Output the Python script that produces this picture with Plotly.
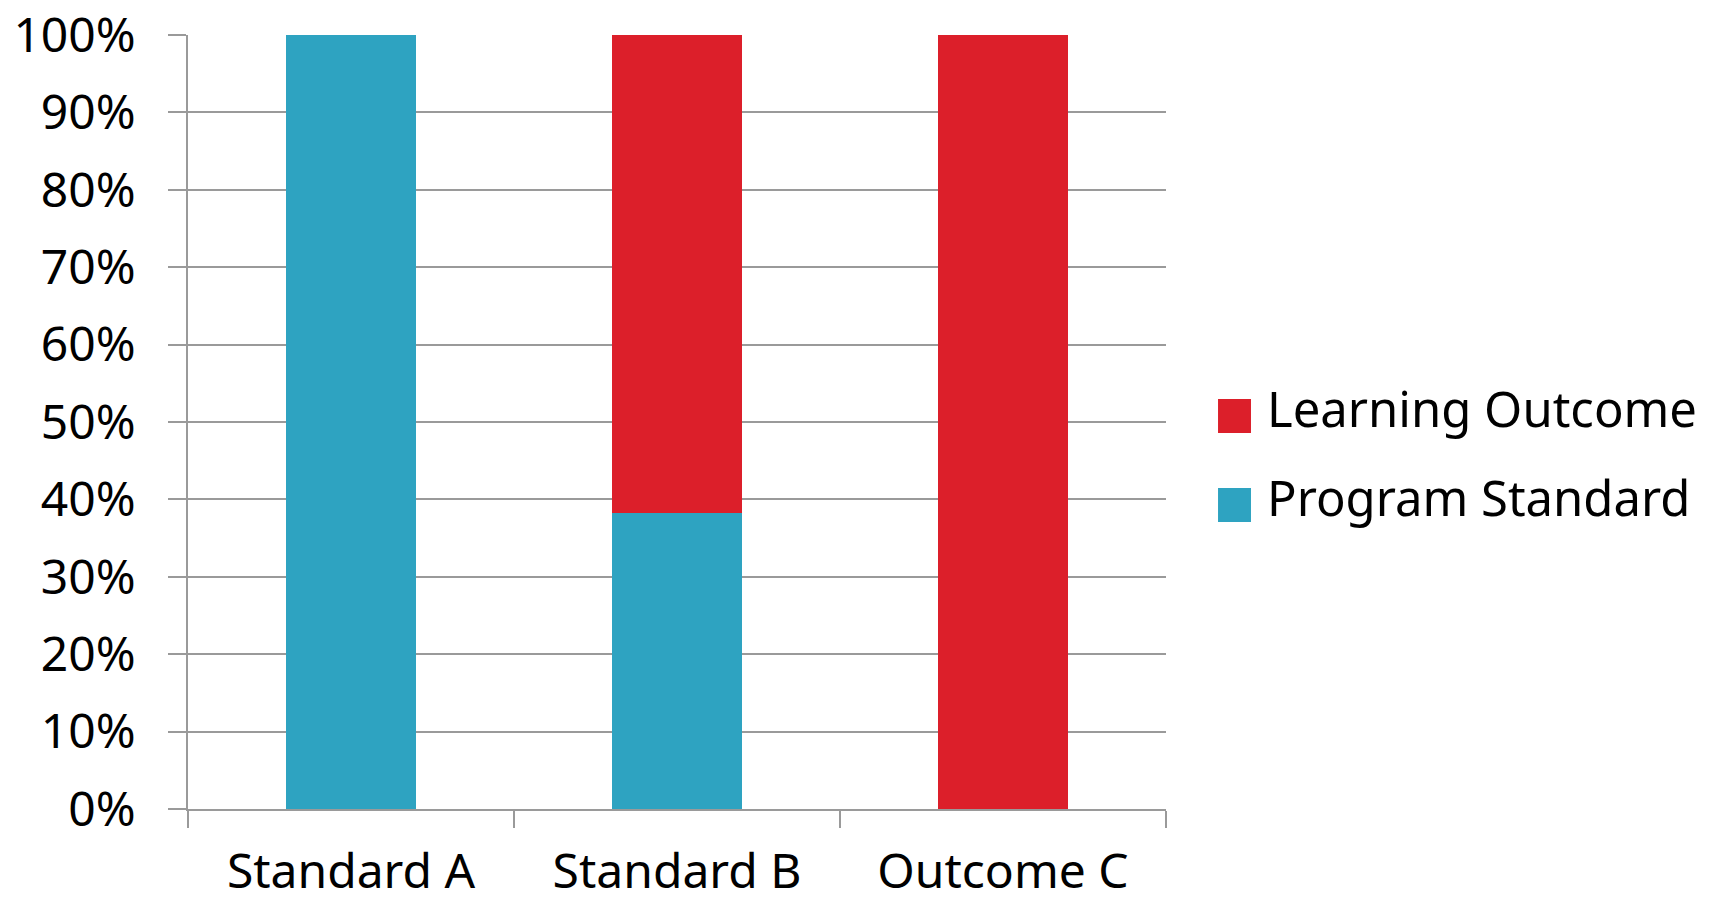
import plotly.graph_objects as go

categories = ["Standard A", "Standard B", "Outcome C"]
program_standard = [100, 38.2, 0]
learning_outcome = [0, 61.8, 100]
series_names = ["Learning Outcome", "Program Standard"]
series_colors = ["#DC1F2A", "#2EA3C1"]
y_ticks = [0, 10, 20, 30, 40, 50, 60, 70, 80, 90, 100]

fig = go.Figure()
fig.add_trace(go.Bar(x=categories, y=program_standard, name=series_names[1],
                     marker=dict(color=series_colors[1], line=dict(width=0))))
fig.add_trace(go.Bar(x=categories, y=learning_outcome, name=series_names[0],
                     marker=dict(color=series_colors[0], line=dict(width=0))))

grid = "#9a9a9a"
fig.update_layout(
    width=1693, height=887, autosize=False,
    barmode="stack", bargap=0.6,
    showlegend=False,
    plot_bgcolor="white", paper_bgcolor="white",
    margin=dict(l=180, r=535, t=27, b=86),
    font=dict(family="Noto Sans", color="black"),
)
fig.update_yaxes(
    range=[0, 100], tickvals=y_ticks, ticktext=[f"{v}%" for v in y_ticks],
    showgrid=True, gridcolor=grid, gridwidth=1.5,
    showline=True, linecolor=grid, linewidth=1.5,
    ticks="outside", ticklen=18, tickwidth=1.5, tickcolor=grid,
    ticklabelstandoff=23, zeroline=False, automargin=False,
    ticklabeloverflow="allow",
    tickfont=dict(family="Noto Sans", size=48, color="black"),
)
fig.update_xaxes(
    showline=True, linecolor=grid, linewidth=1.5,
    ticks="outside", tickson="boundaries", ticklen=17, tickwidth=1.5, tickcolor=grid,
    ticklabelstandoff=20, automargin=False, ticklabeloverflow="allow",
    tickfont=dict(family="Noto Sans", size=48, color="black"),
)

# custom legend
square_rows_y = [0.5078, 0.3928]
text_rows_y = [0.518, 0.403]
half = 0.022
for name, color, yc, yt in zip(series_names, series_colors, square_rows_y, text_rows_y):
    fig.add_shape(type="rect", xref="paper", yref="paper",
                  x0=1.0532, x1=1.0869, y0=yc - half, y1=yc + half,
                  fillcolor=color, line=dict(width=0))
    fig.add_annotation(text=name, xref="paper", yref="paper", x=1.1012, y=yt,
                       xanchor="left", yanchor="middle", showarrow=False,
                       font=dict(family="Noto Sans", size=49, color="black"))

fig.write_html("out.html")
